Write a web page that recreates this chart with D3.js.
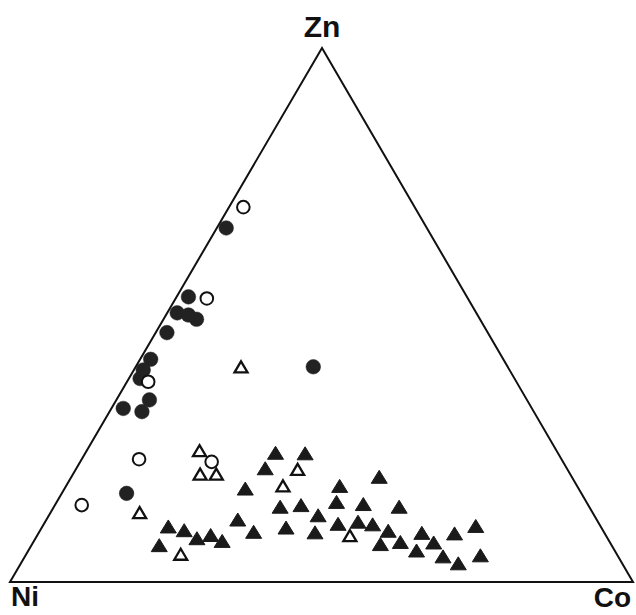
<!DOCTYPE html>
<html><head><meta charset="utf-8">
<script src="https://cdn.jsdelivr.net/npm/d3@7"></script>
<style>html,body{margin:0;padding:0;background:#fff;}svg{display:block;}</style>
</head><body>
<svg id="chart" width="636" height="615"></svg>
<script>
// Ternary compositions in percent: [Zn, Ni, Co]
const vertexLabels = ["Zn", "Ni", "Co"];
const filledCircles = [
  [66.3,32.2,1.5],[53.4,44.7,1.9],[50.4,48.0,1.6],[50.0,46.4,3.6],[49.2,45.5,5.3],
  [46.7,51.5,1.8],[41.7,56.6,1.7],[39.7,58.8,1.5],[38.1,60.1,1.8],[34.1,60.6,5.3],
  [32.5,65.6,1.9],[31.9,62.9,5.2],[40.3,31.2,28.5],[16.6,73.0,10.4]
];
const openCircles = [
  [70.2,27.5,2.3],[53.1,41.9,5.0],[37.5,59.1,3.4],[23.0,67.8,9.2],[14.4,81.3,4.3],[22.5,56.4,21.1]
];
const openTriangles = [
  [40.3,42.8,16.9],[13.0,72.7,14.3],[24.6,57.3,18.1],[20.2,59.4,20.4],[20.2,56.8,23.0],
  [5.2,70.0,24.8],[21.1,43.3,35.6],[18.0,47.2,34.8],[8.7,41.1,50.2]
];
const filledTriangles = [
  [10.4,69.4,20.2],[9.7,67.2,23.1],[8.2,65.9,25.9],[8.8,63.4,27.8],[7.7,62.1,30.2],
  [6.9,72.6,20.5],[11.7,57.6,30.7],[9.4,56.2,34.4],[17.5,53.5,29.0],[24.2,45.3,30.5],
  [24.1,40.6,35.3],[21.3,48.4,30.3],[18.0,38.1,43.9],[19.7,30.9,49.4],[14.1,49.6,36.3],
  [14.4,46.1,39.5],[15.0,40.1,44.9],[14.6,36.0,49.4],[14.1,30.5,55.4],[12.5,44.3,43.2],
  [10.2,50.6,39.2],[9.3,46.4,44.3],[10.9,41.9,47.2],[11.3,38.5,50.2],[10.8,36.4,52.8],
  [9.6,34.5,55.9],[7.1,37.0,55.9],[7.5,33.6,58.9],[9.2,29.3,61.5],[7.4,28.3,64.3],
  [5.9,31.8,62.3],[9.1,24.1,66.8],[4.8,28.1,67.1],[3.5,26.3,70.2],[10.5,20.0,69.5],
  [5.0,22.0,73.0]
];

const svg = d3.select("#chart");
const yZn = d3.scaleLinear().domain([0,100]).range([582,48]);
const xBase = d3.scaleLinear().domain([0,100]).range([10,633]); // Ni->Co along base
const apexX = 322;
function proj(d){
  const zn = d[0], ni = d[1], co = d[2];
  const s = zn+ni+co;
  const x = (ni*xBase(0) + co*xBase(100) + zn*apexX)/s;
  const y = yZn(zn*100/s);
  return [x,y];
}
const V = {Zn:proj([100,0,0]), Ni:proj([0,100,0]), Co:proj([0,0,100])};

svg.append("path")
  .attr("d", d3.line()([V.Ni, V.Co, V.Zn]) + "Z")
  .attr("fill","none").attr("stroke","#111").attr("stroke-width",2)
  .attr("stroke-linejoin","miter");

const font = "'Liberation Sans', Arial, Helvetica, sans-serif";
svg.append("text").attr("x",V.Zn[0]).attr("y",37).attr("text-anchor","middle")
  .attr("font-family",font).attr("font-weight","bold").attr("font-size",30).attr("fill","#111").text(vertexLabels[0]);
svg.append("text").attr("x",11).attr("y",606).attr("text-anchor","start")
  .attr("font-family",font).attr("font-weight","bold").attr("font-size",28).attr("fill","#111").text(vertexLabels[1]);
svg.append("text").attr("x",631).attr("y",607).attr("text-anchor","end")
  .attr("font-family",font).attr("font-weight","bold").attr("font-size",28).attr("fill","#111").text(vertexLabels[2]);

function tri(w,h){ return `M0,${-h/2}L${w/2},${h/2}L${-w/2},${h/2}Z`; }

const g = svg.append("g");
g.selectAll("path.ft").data(filledTriangles).join("path").attr("class","ft")
  .attr("transform",d=>`translate(${proj(d)})`).attr("d",tri(16,13))
  .attr("fill","#1a1a1a").attr("stroke","#1a1a1a").attr("stroke-width",1).attr("stroke-linejoin","round");
g.selectAll("path.ot").data(openTriangles).join("path").attr("class","ot")
  .attr("transform",d=>`translate(${proj(d)})`).attr("d",tri(13,11))
  .attr("fill","#fff").attr("stroke","#111").attr("stroke-width",2.3).attr("stroke-linejoin","miter");
g.selectAll("circle.fc").data(filledCircles).join("circle").attr("class","fc")
  .attr("cx",d=>proj(d)[0]).attr("cy",d=>proj(d)[1]).attr("r",7.3)
  .attr("fill","#222").attr("stroke","#222").attr("stroke-width",0.5);
g.selectAll("circle.oc").data(openCircles).join("circle").attr("class","oc")
  .attr("cx",d=>proj(d)[0]).attr("cy",d=>proj(d)[1]).attr("r",6.3)
  .attr("fill","#fff").attr("stroke","#111").attr("stroke-width",2);
</script>
</body></html>
